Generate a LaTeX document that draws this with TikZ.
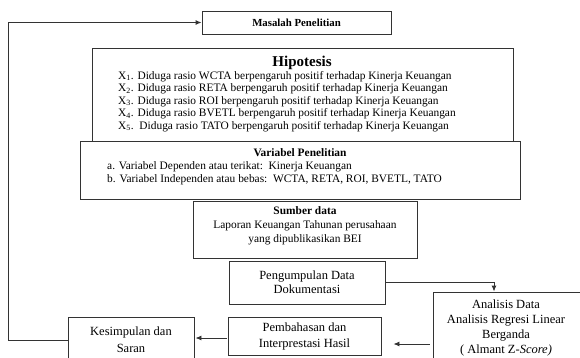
\documentclass[tikz,border=0pt]{standalone}
\usepackage{fontspec}
\setmainfont{Liberation Serif}
\usetikzlibrary{arrows.meta}
\begin{document}
\begin{tikzpicture}[x=1pt,y=-1pt,
 box/.style={draw=black!80, line width=0.9pt, rectangle, inner sep=0pt, align=center},
 arr/.style={draw=black!80, line width=0.9pt, -{Latex[length=6pt,width=5pt]}},
 txt/.style={inner sep=0pt, font=\fontsize{11.4}{12.5}\selectfont},
 big/.style={inner sep=0pt, align=center, font=\fontsize{12.5}{15}\selectfont}]
\useasboundingbox (0,0) rectangle (580,358);
\begin{scope}
\clip (0,0) rectangle (580,358);
% boxes
\node[box, minimum width=189pt, minimum height=23pt, font=\bfseries\fontsize{10.8}{12}\selectfont] (mas) at (296.5,22.5) {Masalah Penelitian};
\node[box, minimum width=421pt, minimum height=93pt] (hip) at (302.5,94.5) {};
\node[box, minimum width=440pt, minimum height=58pt] (var) at (300,170) {};
\node[box, minimum width=224pt, minimum height=57pt] (sum) at (305,229.5) {};
\node[box, minimum width=156pt, minimum height=43pt, font=\fontsize{12.5}{14}\selectfont] (peng) at (307,282.5) {Pengumpulan Data\\Dokumentasi};
\node[box, minimum width=167pt, minimum height=86pt] (ana) at (516.5,335) {};
\node[box, minimum width=153pt, minimum height=38pt, font=\fontsize{12.5}{16}\selectfont] (pemb) at (304.5,336) {Pembahasan dan\\Interprestasi Hasil};
\node[box, minimum width=126pt, minimum height=45pt, font=\fontsize{12.5}{17}\selectfont] (kes) at (131,340) {Kesimpulan dan\\Saran};
% texts
\node[inner sep=0pt, font=\bfseries\fontsize{15}{16}\selectfont] (hipt) at (302,63) {Hipotesis};
\node[txt, anchor=west, align=left] (hipl) at (118,101.5) {%
X\textsubscript{1}. Diduga rasio WCTA berpengaruh positif terhadap Kinerja Keuangan\\
X\textsubscript{2}. Diduga rasio RETA berpengaruh positif terhadap Kinerja Keuangan\\
X\textsubscript{3}. Diduga rasio ROI berpengaruh positif terhadap Kinerja Keuangan\\
X\textsubscript{4}. Diduga rasio BVETL berpengaruh positif terhadap Kinerja Keuangan\\
X\textsubscript{5}.\ \ Diduga rasio TATO berpengaruh positif terhadap Kinerja Keuangan};
\node[inner sep=0pt, font=\bfseries\fontsize{11.4}{12.5}\selectfont] (vart) at (300,153) {Variabel Penelitian};
\node[txt, anchor=west, align=left] (varl) at (107,173.5) {%
a. Variabel Dependen atau terikat:\ \ Kinerja Keuangan\\
b. Variabel Independen atau bebas:\ \ WCTA, RETA, ROI, BVETL, TATO};
\node[inner sep=0pt, align=center, font=\fontsize{11.4}{14}\selectfont] (sumt) at (305,226) {\textbf{Sumber data}\\Laporan Keuangan Tahunan perusahaan\\yang dipublikasikan BEI};
\node[big] (anat) at (506,328) {Analisis Data\\Analisis Regresi Linear\\Berganda\\( Almant Z-\textit{Score)}};
% connectors
\coordinate (lx) at (8,0);
\coordinate (r1) at (0,344);
\coordinate (r2) at (0,338);
\coordinate (dn) at (494,0);
\draw[arr] (peng.east) -| (dn |- ana.north);
\draw[arr, shorten <=3pt, shorten >=12pt] (ana.west |- r1) -- (pemb.east |- r1);
\draw[arr, shorten <=1pt, shorten >=1pt] (pemb.west |- r2) -- (kes.east |- r2);
\draw[arr] (kes.west) -- (kes.west -| lx) |- (mas.west);
\end{scope}
\end{tikzpicture}
\end{document}
